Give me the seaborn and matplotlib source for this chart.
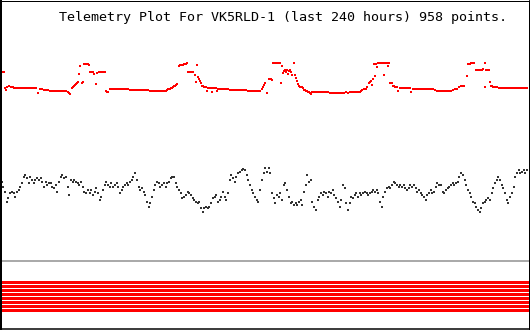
import matplotlib
matplotlib.use("Agg")
import matplotlib.pyplot as plt
import seaborn as sns
import pandas as pd

# ---------------- data (y grows downward) ----------------
red_x = [0, 2, 4, 5, 6, 7, 9, 11, 13, 14, 16, 18, 20, 22, 24, 26, 28, 30, 32, 34, 36, 38, 40, 42, 44, 46, 48, 50, 52, 54, 56, 58, 60, 62, 64, 66, 68, 69, 70, 72, 73, 74, 75, 76, 77, 78, 79, 80, 82, 83, 84, 85, 86, 87, 88, 89, 90, 91, 92, 93, 94, 96, 97, 99, 100, 101, 102, 103, 104, 105, 106, 107, 108, 110, 112, 114, 116, 118, 120, 122, 124, 126, 128, 130, 132, 134, 136, 138, 140, 142, 144, 146, 148, 150, 152, 154, 156, 158, 160, 162, 164, 166, 167, 168, 170, 171, 172, 173, 174, 175, 176, 177, 179,
         180, 181, 182, 183, 184, 185, 186, 187, 188, 189, 190, 191, 192, 193, 195, 196, 197, 198, 199, 200, 201, 202, 203, 204, 205, 206, 207, 208, 209, 210, 211, 212, 213, 214, 215, 216, 217, 218, 220, 222, 224, 226, 228, 230, 232, 234, 236, 238, 240, 242, 244, 246, 248, 250, 252, 254, 256, 258, 260, 262, 263, 264, 265, 267, 269, 270, 271, 272,
         273, 274, 275, 276, 277, 278, 279, 280, 281, 282, 283, 284, 285, 286, 287, 288, 289, 290, 291, 292, 294, 295, 296, 297, 298, 299, 300, 301, 302, 303, 304, 305, 306, 307, 308, 309, 310, 311, 312, 314, 316, 318, 320, 322, 324, 326, 328, 330, 332, 334, 336, 338, 340, 342, 344, 346, 348, 350, 352, 354, 356, 358, 360, 361, 362, 364, 366, 367, 369, 370, 371, 372, 373, 374, 375, 376, 377, 378, 379, 380, 381, 382, 383, 384, 385, 386, 387, 388, 389, 390, 391, 392, 393, 394, 395, 396, 397, 398, 400, 402, 404, 406, 408, 410, 411, 413, 415, 417, 419, 421, 423, 425, 427, 429, 431, 433, 435, 437, 439, 441, 443, 445, 447, 449, 451, 453, 455, 457, 459, 461, 463, 464, 467, 468, 469, 470, 471, 472, 473, 474, 476, 477, 478, 479, 480, 481, 482, 483, 485, 485, 486, 487, 488, 489, 490, 491, 492, 493, 494, 495, 496, 497, 499, 501, 503, 505, 507, 509, 511, 513, 515, 517, 519, 521, 523, 525, 527]
red_y = [72, 72, 72, 88, 90, 87, 86, 87, 87, 88, 88, 88, 88, 88, 88, 88, 88, 88, 88, 88, 88, 93, 89, 89, 90, 90, 90, 91, 91, 91, 91, 91, 91, 91, 91, 91, 92, 93, 94, 88, 87, 86, 85, 84, 83, 82, 74, 66, 83, 82, 64, 64, 64, 64, 64, 65, 72, 72, 72, 72, 74, 84, 73, 72, 72, 72, 72, 72, 72, 72, 91, 92, 92, 89, 89, 89, 89, 89, 89, 89, 89, 89, 89, 90, 90, 90, 90, 90, 90, 90, 90, 90, 90, 91, 91, 91, 91, 91, 91, 91, 91, 91, 90, 89, 89, 88, 88, 87, 86, 86, 85, 84, 66,
         65, 65, 65, 65, 64, 64, 64, 63, 72, 72, 72, 72, 72, 72, 75, 82, 65, 77, 79, 81, 83, 86, 86, 87, 87, 87, 91, 88, 88, 88, 88, 92, 88, 88, 88, 88, 91, 89, 89, 89, 89, 89, 89, 90, 90, 90, 90, 90, 90, 90, 90, 90, 91, 91, 91, 91, 91, 91, 91, 89, 87, 85, 83, 93, 79, 79, 79, 80,
         63, 63, 63, 63, 63, 63, 63, 63, 83, 66, 73, 71, 70, 72, 70, 74, 71, 70, 72, 75, 63, 75, 78, 81, 84, 86, 87, 87, 87, 88, 90, 90, 91, 91, 92, 92, 93, 94, 92, 92, 92, 92, 92, 92, 92, 92, 92, 93, 93, 93, 93, 93, 93, 93, 93, 92, 93, 92, 92, 92, 92, 92, 92, 91, 90, 89, 89, 87, 83, 82, 81, 85, 79, 64, 76, 64, 67, 63, 63, 63, 63, 63, 63, 75, 63, 63, 63, 66, 63, 83, 83, 83, 86, 86, 87, 87, 87, 91, 88, 88, 88, 88, 88, 88, 92, 89, 89, 89, 89, 89, 89, 89, 89, 89, 89, 89, 90, 91, 91, 91, 91, 91, 91, 91, 91, 90, 89, 89, 87, 86, 86, 86, 76, 64, 64, 64, 63, 63, 63, 63, 70, 70, 70, 70, 70, 70, 70, 69, 63, 87, 70, 70, 70, 70, 82, 86, 86, 87, 87, 87, 87, 87, 88, 88, 88, 88, 88, 88, 88, 88, 88, 88, 88, 88, 88, 88, 88]

black_x = [2, 3, 5, 7, 8, 10, 12, 14, 15, 17, 19, 20, 22, 24, 25, 27, 29, 30, 32, 34, 35, 37, 39, 41, 42, 44, 46, 47, 49, 51, 52, 54, 56, 57, 59, 61, 62, 64, 66, 68, 69, 71, 73, 74, 76, 78, 79, 81, 83, 84, 86, 88, 90, 91, 93, 95, 96, 98, 100, 101, 103, 105, 106, 108, 110, 111, 113, 115, 117, 118, 120, 122, 123, 125, 127, 128, 130, 132, 133, 135, 137, 139, 140, 142, 144, 145, 147, 149, 150, 152, 154, 155, 157, 159, 160, 162, 164, 166, 167, 169, 171, 172, 174, 176, 177, 179, 181, 182, 184, 186, 188, 189, 191, 193, 194, 196, 198, 199, 201, 203, 204, 206, 208, 209, 211, 213, 215, 216, 218, 220, 221, 223, 225, 226, 228, 230, 231, 233, 235, 236, 238, 240, 242, 243, 245, 247, 248, 250, 252, 253, 255, 257, 258, 260, 262, 264, 265, 267, 269, 270,
           272, 274, 275, 277, 279, 280, 282, 284, 285, 287, 289, 291, 292, 294, 296, 297, 299, 301, 302, 304, 306, 307, 309, 311, 312, 314, 316, 318, 319, 321, 323, 324, 326, 328, 329, 331, 333, 334, 336, 338, 340, 341, 343, 345, 346, 348, 350, 351, 353, 355, 356, 358, 360, 361, 363, 365, 367, 368, 370, 372, 373, 375, 377, 378, 380, 382, 383, 385, 387, 389, 390, 392, 394, 395, 397, 399, 400, 402, 404, 405, 407, 409, 410, 412, 414, 416, 417, 419, 421, 422, 424, 426, 427, 429, 431, 432, 434, 436, 437, 439, 441, 443, 444, 446, 448, 449, 451, 453, 454, 456, 458, 459, 461, 463, 465, 466, 468, 470, 471, 473, 475, 476, 478, 480, 481, 483, 485, 486, 488, 490, 492, 493, 495, 497, 498, 500, 502, 503, 505, 507, 508, 510, 512, 514, 515, 517, 519, 520, 522, 524, 525, 527]
black_y = [182, 187, 192, 202, 198, 193, 192, 193, 197, 192, 190, 187, 183, 177, 175, 178, 183, 177, 180, 183, 180, 178, 180, 178, 182, 187, 182, 185, 183, 183, 187, 188, 185, 192, 182, 177, 175, 178, 177, 187, 195, 180, 182, 180, 182, 183, 185, 182, 187, 192, 193, 190, 193, 190, 195, 192, 188, 193, 200, 197, 190, 185, 182, 185, 187, 183, 187, 185, 183, 187, 193, 190, 187, 185, 183, 185, 182, 180, 177, 173, 180, 187, 190, 188, 192, 195, 202, 207, 203, 197, 190, 185, 182, 183, 187, 185, 183, 187, 183, 182, 178, 177, 177, 183, 187, 190, 193, 198, 197, 195, 192, 193, 195, 198, 200, 202, 203, 202, 208, 212, 208, 207, 208, 207, 203, 198, 197, 195, 202, 200, 197, 192, 197, 200, 193, 180, 175, 178, 182, 177, 173, 172, 170, 169, 170, 175, 180, 185, 190, 193, 197, 200, 202, 190, 180, 173, 168, 172, 168, 173,
           193, 198, 203, 195, 197, 193, 200, 185, 183, 190, 197, 203, 202, 205, 203, 205, 202, 200, 205, 192, 185, 175, 182, 180, 202, 207, 210, 200, 197, 193, 195, 192, 193, 197, 192, 193, 190, 195, 198, 202, 207, 200, 185, 188, 203, 210, 203, 197, 198, 195, 193, 197, 193, 195, 193, 192, 193, 195, 193, 192, 190, 192, 190, 193, 202, 207, 197, 192, 188, 187, 188, 185, 182, 183, 185, 187, 185, 187, 185, 188, 190, 188, 185, 187, 185, 188, 192, 190, 193, 195, 197, 200, 195, 193, 190, 193, 192, 187, 183, 185, 185, 192, 193, 190, 188, 187, 185, 183, 185, 183, 182, 177, 173, 175, 180, 185, 190, 193, 197, 202, 203, 207, 210, 212, 208, 203, 202, 200, 198, 200, 193, 188, 183, 180, 177, 180, 185, 188, 193, 200, 203, 197, 193, 187, 177, 173, 170, 173, 172, 170, 173, 170]

bit_levels = [281.5, 285.5, 289.5, 293.5, 297.5, 301.5, 305.5, 309.5]
separator_level = 261
title = "Telemetry Plot For VK5RLD-1 (last 240 hours) 958 points."

# ---------------- drawing ----------------
sns.set_style("white")
W, H = 530, 330
fig = plt.figure(figsize=(W / 100, H / 100), dpi=100)
ax = fig.add_axes([0, 0, 1, 1])
ax.set_xlim(0, W)
ax.set_ylim(H, 0)
ax.axis("off")

px = 72 / 100  # points per pixel

red_df = pd.DataFrame({"x": red_x, "y": red_y})
black_df = pd.DataFrame({"x": black_x, "y": black_y})

sns.scatterplot(data=red_df, x="x", y="y", marker="s", s=(2.2 * px) ** 2,
                color="#ff0000", linewidth=0, ax=ax, legend=False)
sns.scatterplot(data=black_df, x="x", y="y", marker="s", s=(1.4 * px) ** 2,
                color="#333333", linewidth=0, ax=ax, legend=False)

xmin, xmax = min(red_x), max(red_x) + 1
bits_df = pd.DataFrame({
    "x": [xmin, xmax] * len(bit_levels),
    "y": [b for b in bit_levels for _ in range(2)],
    "bit": [i for i in range(len(bit_levels)) for _ in range(2)],
})
sns.lineplot(data=bits_df, x="x", y="y", units="bit", estimator=None,
             color="#ff0000", linewidth=3 * px, ax=ax, legend=False)

ax.axhline(separator_level, color="#aaaaaa", linewidth=2 * px)

# frame
ax.axvline(0.75, color="black", linewidth=2 * px)
ax.axhline(0.5, color="black", linewidth=1 * px)
ax.axvline(528.5, color="black", linewidth=1 * px)
ax.axhline(329.2, color="black", linewidth=1.5 * px)

fig.text(283 / W, 1 - 21 / H, title, ha="center", va="baseline",
         family="DejaVu Sans Mono", fontsize=9.6, color="black")

fig.savefig("out.png", dpi=100, facecolor="white")
